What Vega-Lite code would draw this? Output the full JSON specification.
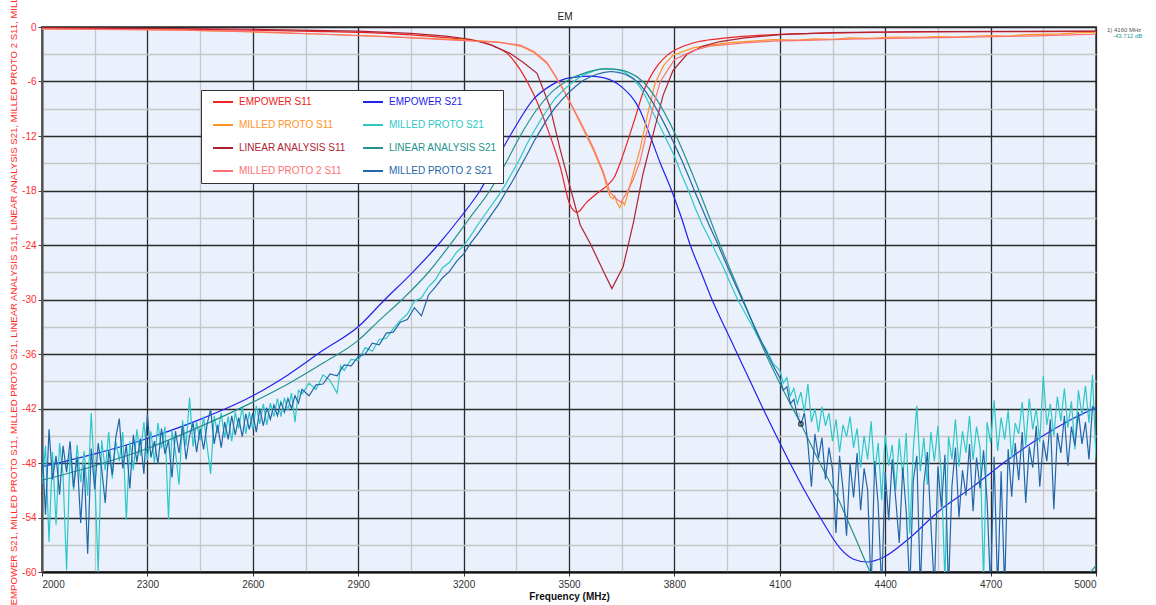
{
  "$schema": "https://vega.github.io/schema/vega-lite/v6.json",
  "width": 1054,
  "height": 545,
  "autosize": {"type": "none"},
  "padding": {"left": 42, "top": 27, "right": 60, "bottom": 33},
  "background": "white",
  "config": {
    "view": {"fill": "#EAF1FC", "stroke": "#666", "strokeWidth": 2},
    "font": "Liberation Sans"
  },
  "datasets": {
    "es11": [{"f":2000,"v":-0.15},{"f":2200,"v":-0.18},{"f":2400,"v":-0.25},{"f":2600,"v":-0.35},{"f":2800,"v":-0.5},{"f":2900,"v":-0.6},{"f":3000,"v":-0.75},{"f":3100,"v":-1.0},{"f":3200,"v":-1.35},{"f":3250,"v":-1.6},{"f":3290,"v":-2.2},{"f":3324,"v":-2.9},{"f":3361,"v":-4.7},{"f":3398,"v":-7.3},{"f":3437,"v":-11.0},{"f":3475,"v":-15.4},{"f":3503,"v":-19.6},{"f":3523,"v":-20.4},{"f":3550,"v":-19.3},{"f":3580,"v":-18.3},{"f":3610,"v":-17.4},{"f":3628,"v":-16.6},{"f":3650,"v":-14.5},{"f":3670,"v":-12.2},{"f":3690,"v":-9.8},{"f":3710,"v":-7.3},{"f":3730,"v":-5.6},{"f":3755,"v":-4.1},{"f":3780,"v":-3.1},{"f":3820,"v":-2.2},{"f":3870,"v":-1.6},{"f":3950,"v":-1.2},{"f":4050,"v":-0.9},{"f":4200,"v":-0.7},{"f":4400,"v":-0.58},{"f":4600,"v":-0.52},{"f":4800,"v":-0.5},{"f":5000,"v":-0.48}],
    "es21": [{"f":2000,"v":-48.4},{"f":2150,"v":-47.0},{"f":2300,"v":-45.3},{"f":2450,"v":-43.2},{"f":2600,"v":-40.6},{"f":2700,"v":-38.3},{"f":2800,"v":-35.6},{"f":2900,"v":-33.0},{"f":2976,"v":-30.0},{"f":3050,"v":-27.2},{"f":3127,"v":-24.0},{"f":3190,"v":-21.0},{"f":3247,"v":-18.0},{"f":3304,"v":-13.9},{"f":3341,"v":-11.4},{"f":3398,"v":-8.0},{"f":3450,"v":-6.4},{"f":3500,"v":-5.6},{"f":3560,"v":-5.4},{"f":3600,"v":-5.6},{"f":3650,"v":-6.6},{"f":3700,"v":-9.0},{"f":3731,"v":-12.0},{"f":3760,"v":-15.0},{"f":3792,"v":-18.0},{"f":3820,"v":-21.0},{"f":3845,"v":-24.0},{"f":3876,"v":-27.0},{"f":3907,"v":-30.0},{"f":3955,"v":-34.0},{"f":4000,"v":-37.7},{"f":4052,"v":-42.0},{"f":4090,"v":-45.0},{"f":4129,"v":-48.0},{"f":4170,"v":-51.0},{"f":4215,"v":-54.0},{"f":4272,"v":-57.4},{"f":4310,"v":-58.6},{"f":4348,"v":-58.9},{"f":4394,"v":-58.4},{"f":4462,"v":-56.5},{"f":4556,"v":-53.2},{"f":4650,"v":-50.6},{"f":4747,"v":-47.7},{"f":4841,"v":-45.2},{"f":4920,"v":-43.4},{"f":5000,"v":-41.9}],
    "mp11": [{"f":2000,"v":-0.2},{"f":2200,"v":-0.25},{"f":2400,"v":-0.35},{"f":2600,"v":-0.55},{"f":2800,"v":-0.8},{"f":2950,"v":-1.0},{"f":3100,"v":-1.25},{"f":3218,"v":-1.45},{"f":3300,"v":-1.65},{"f":3361,"v":-2.1},{"f":3400,"v":-2.8},{"f":3437,"v":-4.0},{"f":3460,"v":-5.3},{"f":3483,"v":-6.9},{"f":3508,"v":-8.7},{"f":3532,"v":-10.6},{"f":3550,"v":-12.0},{"f":3569,"v":-13.5},{"f":3585,"v":-15.0},{"f":3597,"v":-16.1},{"f":3610,"v":-17.9},{"f":3617,"v":-18.7},{"f":3625,"v":-18.9},{"f":3630,"v":-18.6},{"f":3637,"v":-19.4},{"f":3645,"v":-19.9},{"f":3652,"v":-19.2},{"f":3658,"v":-19.6},{"f":3665,"v":-18.7},{"f":3683,"v":-16.1},{"f":3702,"v":-13.5},{"f":3722,"v":-9.9},{"f":3745,"v":-6.2},{"f":3770,"v":-4.2},{"f":3796,"v":-3.1},{"f":3853,"v":-2.3},{"f":3900,"v":-2.0},{"f":3950,"v":-1.75},{"f":4000,"v":-1.6},{"f":4081,"v":-1.4},{"f":4150,"v":-1.45},{"f":4200,"v":-1.3},{"f":4250,"v":-1.35},{"f":4300,"v":-1.2},{"f":4350,"v":-1.25},{"f":4422,"v":-1.1},{"f":4500,"v":-1.15},{"f":4550,"v":-1.05},{"f":4600,"v":-1.1},{"f":4700,"v":-0.95},{"f":4750,"v":-1.0},{"f":4800,"v":-0.85},{"f":4900,"v":-0.75},{"f":4955,"v":-0.62},{"f":5000,"v":-0.6}],
    "mp21": [{"f":2000,"v":-50.3},{"f":2010,"v":-46.1},{"f":2020,"v":-56.7},{"f":2030,"v":-46.8},{"f":2040,"v":-54.8},{"f":2050,"v":-45.8},{"f":2060,"v":-49.4},{"f":2070,"v":-59.8},{"f":2080,"v":-46.8},{"f":2090,"v":-51.0},{"f":2100,"v":-46.0},{"f":2110,"v":-50.1},{"f":2120,"v":-46.7},{"f":2130,"v":-51.6},{"f":2140,"v":-42.5},{"f":2150,"v":-49.5},{"f":2160,"v":-60.0},{"f":2170,"v":-45.5},{"f":2180,"v":-48.8},{"f":2190,"v":-44.6},{"f":2200,"v":-49.7},{"f":2210,"v":-45.6},{"f":2220,"v":-47.8},{"f":2230,"v":-44.6},{"f":2240,"v":-54.3},{"f":2250,"v":-45.6},{"f":2260,"v":-48.8},{"f":2270,"v":-44.3},{"f":2280,"v":-47.2},{"f":2290,"v":-43.5},{"f":2300,"v":-47.7},{"f":2310,"v":-44.5},{"f":2320,"v":-48.0},{"f":2330,"v":-43.6},{"f":2340,"v":-46.4},{"f":2350,"v":-44.0},{"f":2360,"v":-54.2},{"f":2370,"v":-44.4},{"f":2380,"v":-46.8},{"f":2390,"v":-50.4},{"f":2400,"v":-43.3},{"f":2410,"v":-46.1},{"f":2420,"v":-40.8},{"f":2430,"v":-46.2},{"f":2440,"v":-43.5},{"f":2450,"v":-45.5},{"f":2460,"v":-42.9},{"f":2470,"v":-46.2},{"f":2480,"v":-49.2},{"f":2490,"v":-42.8},{"f":2500,"v":-44.7},{"f":2510,"v":-42.5},{"f":2520,"v":-45.2},{"f":2530,"v":-42.9},{"f":2540,"v":-45.6},{"f":2550,"v":-42.4},{"f":2560,"v":-44.2},{"f":2570,"v":-41.8},{"f":2580,"v":-44.8},{"f":2590,"v":-42.4},{"f":2600,"v":-44.3},{"f":2610,"v":-41.7},{"f":2620,"v":-43.7},{"f":2630,"v":-41.5},{"f":2640,"v":-43.8},{"f":2650,"v":-41.4},{"f":2660,"v":-42.9},{"f":2670,"v":-40.9},{"f":2680,"v":-42.9},{"f":2690,"v":-40.8},{"f":2700,"v":-42.2},{"f":2710,"v":-40.3},{"f":2720,"v":-43.5},{"f":2730,"v":-40.0},{"f":2740,"v":-40.4},{"f":2760,"v":-39.2},{"f":2780,"v":-39.9},{"f":2800,"v":-38.3},{"f":2820,"v":-38.9},{"f":2840,"v":-40.3},{"f":2850,"v":-37.3},{"f":2860,"v":-37.8},{"f":2880,"v":-36.6},{"f":2900,"v":-36.7},{"f":2920,"v":-35.3},{"f":2940,"v":-35.7},{"f":2960,"v":-34.4},{"f":2980,"v":-34.3},{"f":3000,"v":-33.2},{"f":3020,"v":-32.3},{"f":3040,"v":-31.6},{"f":3060,"v":-30.2},{"f":3080,"v":-29.8},{"f":3100,"v":-28.6},{"f":3120,"v":-27.8},{"f":3140,"v":-26.5},{"f":3160,"v":-25.9},{"f":3180,"v":-24.8},{"f":3200,"v":-24.1},{"f":3220,"v":-23.0},{"f":3240,"v":-21.8},{"f":3260,"v":-20.7},{"f":3280,"v":-19.6},{"f":3300,"v":-18.5},{"f":3320,"v":-17.3},{"f":3340,"v":-15.9},{"f":3360,"v":-14.5},{"f":3380,"v":-12.9},{"f":3400,"v":-11.5},{"f":3420,"v":-10.2},{"f":3440,"v":-9.0},{"f":3460,"v":-7.9},{"f":3480,"v":-7.1},{"f":3500,"v":-6.4},{"f":3520,"v":-5.8},{"f":3540,"v":-5.3},{"f":3560,"v":-5.0},{"f":3580,"v":-4.7},{"f":3600,"v":-4.6},{"f":3620,"v":-4.6},{"f":3640,"v":-4.7},{"f":3660,"v":-5.0},{"f":3680,"v":-5.6},{"f":3700,"v":-6.5},{"f":3720,"v":-7.8},{"f":3740,"v":-9.5},{"f":3760,"v":-11.0},{"f":3780,"v":-12.6},{"f":3800,"v":-14.2},{"f":3820,"v":-16.2},{"f":3840,"v":-18.0},{"f":3860,"v":-20.0},{"f":3880,"v":-21.8},{"f":3900,"v":-23.3},{"f":3920,"v":-25.0},{"f":3940,"v":-26.5},{"f":3960,"v":-28.3},{"f":3980,"v":-30.0},{"f":4000,"v":-31.4},{"f":4020,"v":-32.8},{"f":4040,"v":-34.3},{"f":4060,"v":-35.4},{"f":4080,"v":-37.0},{"f":4100,"v":-37.8},{"f":4110,"v":-39.2},{"f":4120,"v":-38.6},{"f":4130,"v":-40.6},{"f":4140,"v":-39.8},{"f":4150,"v":-41.5},{"f":4160,"v":-40.2},{"f":4170,"v":-42.4},{"f":4180,"v":-39.3},{"f":4190,"v":-43.5},{"f":4200,"v":-42.0},{"f":4210,"v":-44.6},{"f":4220,"v":-41.8},{"f":4230,"v":-43.9},{"f":4240,"v":-42.5},{"f":4250,"v":-45.6},{"f":4260,"v":-43.2},{"f":4270,"v":-46.8},{"f":4280,"v":-43.8},{"f":4290,"v":-45.1},{"f":4300,"v":-42.9},{"f":4310,"v":-46.3},{"f":4320,"v":-44.2},{"f":4330,"v":-48.5},{"f":4340,"v":-45.0},{"f":4350,"v":-47.6},{"f":4360,"v":-43.4},{"f":4370,"v":-49.2},{"f":4380,"v":-45.8},{"f":4390,"v":-52.1},{"f":4400,"v":-44.9},{"f":4410,"v":-48.3},{"f":4420,"v":-46.0},{"f":4430,"v":-51.0},{"f":4440,"v":-45.3},{"f":4450,"v":-49.6},{"f":4460,"v":-44.7},{"f":4470,"v":-55.8},{"f":4480,"v":-46.5},{"f":4490,"v":-41.7},{"f":4500,"v":-48.9},{"f":4510,"v":-45.2},{"f":4520,"v":-50.4},{"f":4530,"v":-44.6},{"f":4540,"v":-47.8},{"f":4550,"v":-43.9},{"f":4560,"v":-49.5},{"f":4570,"v":-61.0},{"f":4580,"v":-45.1},{"f":4590,"v":-47.6},{"f":4600,"v":-43.2},{"f":4610,"v":-48.4},{"f":4620,"v":-44.5},{"f":4630,"v":-46.9},{"f":4640,"v":-42.8},{"f":4650,"v":-47.7},{"f":4660,"v":-44.0},{"f":4670,"v":-46.3},{"f":4680,"v":-61.0},{"f":4690,"v":-43.5},{"f":4700,"v":-45.8},{"f":4710,"v":-41.1},{"f":4720,"v":-46.7},{"f":4730,"v":-43.0},{"f":4740,"v":-45.4},{"f":4750,"v":-42.2},{"f":4760,"v":-47.5},{"f":4770,"v":-43.6},{"f":4780,"v":-44.8},{"f":4790,"v":-41.3},{"f":4800,"v":-46.1},{"f":4810,"v":-40.9},{"f":4820,"v":-44.3},{"f":4830,"v":-42.0},{"f":4840,"v":-45.7},{"f":4850,"v":-38.4},{"f":4860,"v":-43.8},{"f":4870,"v":-41.5},{"f":4880,"v":-45.0},{"f":4890,"v":-40.7},{"f":4900,"v":-43.4},{"f":4910,"v":-39.8},{"f":4920,"v":-44.1},{"f":4930,"v":-41.2},{"f":4940,"v":-46.5},{"f":4950,"v":-40.0},{"f":4960,"v":-42.8},{"f":4970,"v":-39.5},{"f":4980,"v":-43.6},{"f":4990,"v":-38.3},{"f":5000,"v":-47.5}],
    "la11": [{"f":2000,"v":-0.1},{"f":2300,"v":-0.15},{"f":2600,"v":-0.25},{"f":2900,"v":-0.45},{"f":3050,"v":-0.7},{"f":3150,"v":-1.0},{"f":3218,"v":-1.35},{"f":3280,"v":-2.0},{"f":3332,"v":-2.9},{"f":3370,"v":-3.9},{"f":3409,"v":-5.1},{"f":3446,"v":-8.8},{"f":3475,"v":-13.5},{"f":3503,"v":-17.6},{"f":3532,"v":-21.8},{"f":3560,"v":-23.8},{"f":3597,"v":-26.8},{"f":3622,"v":-28.8},{"f":3654,"v":-26.4},{"f":3683,"v":-21.6},{"f":3711,"v":-16.1},{"f":3740,"v":-11.7},{"f":3768,"v":-7.5},{"f":3796,"v":-4.8},{"f":3836,"v":-3.0},{"f":3882,"v":-2.1},{"f":3930,"v":-1.6},{"f":4000,"v":-1.2},{"f":4100,"v":-0.85},{"f":4250,"v":-0.62},{"f":4500,"v":-0.52},{"f":5000,"v":-0.45}],
    "la21": [{"f":2000,"v":-49.9},{"f":2150,"v":-48.3},{"f":2300,"v":-46.4},{"f":2450,"v":-44.0},{"f":2600,"v":-41.3},{"f":2700,"v":-39.3},{"f":2800,"v":-37.0},{"f":2900,"v":-34.5},{"f":2960,"v":-32.3},{"f":3025,"v":-30.0},{"f":3100,"v":-27.0},{"f":3161,"v":-24.0},{"f":3218,"v":-21.0},{"f":3275,"v":-18.0},{"f":3320,"v":-15.0},{"f":3361,"v":-12.0},{"f":3410,"v":-9.0},{"f":3450,"v":-7.2},{"f":3500,"v":-5.8},{"f":3550,"v":-5.0},{"f":3600,"v":-4.6},{"f":3640,"v":-4.7},{"f":3670,"v":-5.0},{"f":3710,"v":-6.0},{"f":3750,"v":-8.0},{"f":3805,"v":-12.0},{"f":3870,"v":-18.0},{"f":3930,"v":-24.0},{"f":3995,"v":-30.0},{"f":4060,"v":-36.0},{"f":4110,"v":-40.0},{"f":4160,"v":-43.7},{"f":4210,"v":-47.7},{"f":4263,"v":-51.7},{"f":4310,"v":-55.8},{"f":4357,"v":-60.0},{"f":4400,"v":-63.5},{"f":4500,"v":-70.0},{"f":4650,"v":-72.0},{"f":4800,"v":-68.0},{"f":4920,"v":-63.0},{"f":5000,"v":-59.3}],
    "m211": [{"f":2000,"v":-0.2},{"f":2400,"v":-0.35},{"f":2600,"v":-0.5},{"f":2800,"v":-0.8},{"f":3000,"v":-1.1},{"f":3200,"v":-1.5},{"f":3300,"v":-1.7},{"f":3361,"v":-2.0},{"f":3400,"v":-2.7},{"f":3437,"v":-3.9},{"f":3483,"v":-6.8},{"f":3532,"v":-10.4},{"f":3569,"v":-13.3},{"f":3597,"v":-15.9},{"f":3617,"v":-18.2},{"f":3637,"v":-19.0},{"f":3648,"v":-19.3},{"f":3665,"v":-18.2},{"f":3683,"v":-16.8},{"f":3702,"v":-14.8},{"f":3722,"v":-11.5},{"f":3745,"v":-8.0},{"f":3760,"v":-6.0},{"f":3800,"v":-3.6},{"f":3853,"v":-2.6},{"f":3900,"v":-2.1},{"f":4000,"v":-1.75},{"f":4081,"v":-1.55},{"f":4200,"v":-1.45},{"f":4300,"v":-1.35},{"f":4422,"v":-1.25},{"f":4600,"v":-1.15},{"f":4800,"v":-1.0},{"f":4955,"v":-0.85},{"f":5000,"v":-0.8}],
    "m221": [{"f":2000,"v":-45.9},{"f":2010,"v":-53.7},{"f":2020,"v":-44.3},{"f":2030,"v":-49.8},{"f":2040,"v":-47.2},{"f":2050,"v":-51.5},{"f":2060,"v":-46.1},{"f":2070,"v":-49.0},{"f":2080,"v":-45.6},{"f":2090,"v":-50.7},{"f":2100,"v":-47.3},{"f":2110,"v":-54.6},{"f":2120,"v":-48.2},{"f":2130,"v":-58.0},{"f":2140,"v":-46.4},{"f":2150,"v":-50.9},{"f":2160,"v":-45.8},{"f":2170,"v":-48.7},{"f":2180,"v":-52.4},{"f":2190,"v":-46.6},{"f":2200,"v":-49.3},{"f":2210,"v":-45.2},{"f":2220,"v":-43.1},{"f":2230,"v":-48.6},{"f":2240,"v":-46.0},{"f":2250,"v":-50.8},{"f":2260,"v":-44.9},{"f":2270,"v":-47.9},{"f":2280,"v":-45.3},{"f":2290,"v":-49.2},{"f":2300,"v":-42.6},{"f":2310,"v":-47.4},{"f":2320,"v":-45.6},{"f":2330,"v":-48.1},{"f":2340,"v":-44.2},{"f":2350,"v":-47.0},{"f":2360,"v":-45.5},{"f":2370,"v":-49.6},{"f":2380,"v":-44.5},{"f":2390,"v":-46.9},{"f":2400,"v":-43.9},{"f":2410,"v":-47.6},{"f":2420,"v":-45.0},{"f":2430,"v":-43.6},{"f":2440,"v":-46.8},{"f":2450,"v":-44.2},{"f":2460,"v":-46.5},{"f":2470,"v":-43.7},{"f":2480,"v":-42.1},{"f":2490,"v":-45.9},{"f":2500,"v":-43.8},{"f":2510,"v":-46.3},{"f":2520,"v":-43.5},{"f":2530,"v":-45.4},{"f":2540,"v":-42.8},{"f":2550,"v":-44.9},{"f":2560,"v":-43.0},{"f":2570,"v":-45.1},{"f":2580,"v":-42.6},{"f":2590,"v":-44.3},{"f":2600,"v":-42.5},{"f":2610,"v":-44.6},{"f":2620,"v":-42.0},{"f":2630,"v":-43.9},{"f":2640,"v":-41.9},{"f":2650,"v":-43.2},{"f":2660,"v":-41.6},{"f":2670,"v":-42.8},{"f":2680,"v":-41.3},{"f":2690,"v":-42.4},{"f":2700,"v":-40.9},{"f":2710,"v":-42.0},{"f":2720,"v":-40.6},{"f":2730,"v":-41.4},{"f":2740,"v":-39.9},{"f":2760,"v":-40.6},{"f":2780,"v":-39.4},{"f":2800,"v":-39.3},{"f":2820,"v":-38.2},{"f":2840,"v":-38.4},{"f":2860,"v":-37.2},{"f":2880,"v":-37.3},{"f":2900,"v":-36.3},{"f":2920,"v":-36.0},{"f":2940,"v":-34.8},{"f":2960,"v":-35.0},{"f":2980,"v":-33.7},{"f":3000,"v":-33.6},{"f":3020,"v":-32.5},{"f":3040,"v":-32.2},{"f":3060,"v":-30.9},{"f":3080,"v":-31.8},{"f":3100,"v":-29.5},{"f":3120,"v":-28.6},{"f":3140,"v":-27.6},{"f":3160,"v":-26.9},{"f":3180,"v":-25.8},{"f":3200,"v":-25.0},{"f":3220,"v":-23.8},{"f":3240,"v":-22.8},{"f":3260,"v":-21.7},{"f":3280,"v":-20.6},{"f":3300,"v":-19.5},{"f":3320,"v":-18.2},{"f":3340,"v":-16.9},{"f":3360,"v":-15.5},{"f":3380,"v":-14.1},{"f":3400,"v":-12.6},{"f":3420,"v":-11.3},{"f":3440,"v":-10.0},{"f":3460,"v":-8.9},{"f":3480,"v":-8.0},{"f":3500,"v":-7.2},{"f":3520,"v":-6.5},{"f":3540,"v":-5.9},{"f":3560,"v":-5.5},{"f":3580,"v":-5.2},{"f":3600,"v":-5.0},{"f":3620,"v":-4.9},{"f":3640,"v":-5.0},{"f":3660,"v":-5.2},{"f":3680,"v":-5.6},{"f":3700,"v":-6.2},{"f":3720,"v":-7.2},{"f":3740,"v":-8.4},{"f":3760,"v":-9.8},{"f":3780,"v":-11.3},{"f":3800,"v":-12.9},{"f":3820,"v":-14.6},{"f":3840,"v":-16.4},{"f":3860,"v":-18.3},{"f":3880,"v":-20.1},{"f":3900,"v":-21.9},{"f":3920,"v":-23.6},{"f":3940,"v":-25.4},{"f":3960,"v":-27.2},{"f":3980,"v":-28.9},{"f":4000,"v":-30.6},{"f":4020,"v":-32.3},{"f":4040,"v":-34.0},{"f":4060,"v":-35.6},{"f":4080,"v":-37.2},{"f":4100,"v":-38.6},{"f":4110,"v":-40.0},{"f":4120,"v":-39.6},{"f":4130,"v":-41.5},{"f":4140,"v":-41.0},{"f":4150,"v":-42.8},{"f":4160,"v":-43.7},{"f":4170,"v":-42.5},{"f":4180,"v":-45.9},{"f":4190,"v":-50.6},{"f":4200,"v":-44.8},{"f":4210,"v":-47.5},{"f":4220,"v":-45.2},{"f":4230,"v":-49.8},{"f":4240,"v":-46.3},{"f":4250,"v":-48.7},{"f":4260,"v":-55.7},{"f":4270,"v":-47.2},{"f":4280,"v":-50.9},{"f":4290,"v":-56.0},{"f":4300,"v":-48.0},{"f":4310,"v":-51.8},{"f":4320,"v":-46.9},{"f":4330,"v":-53.2},{"f":4340,"v":-48.6},{"f":4350,"v":-51.0},{"f":4360,"v":-62.0},{"f":4370,"v":-47.8},{"f":4380,"v":-52.6},{"f":4390,"v":-62.0},{"f":4400,"v":-49.0},{"f":4410,"v":-54.3},{"f":4420,"v":-47.6},{"f":4430,"v":-52.0},{"f":4440,"v":-56.8},{"f":4450,"v":-48.5},{"f":4460,"v":-53.4},{"f":4470,"v":-62.0},{"f":4480,"v":-49.9},{"f":4490,"v":-47.2},{"f":4500,"v":-62.0},{"f":4510,"v":-50.3},{"f":4520,"v":-46.8},{"f":4530,"v":-54.7},{"f":4540,"v":-62.0},{"f":4550,"v":-48.4},{"f":4560,"v":-52.9},{"f":4570,"v":-47.1},{"f":4580,"v":-62.0},{"f":4590,"v":-50.5},{"f":4600,"v":-46.3},{"f":4610,"v":-54.0},{"f":4620,"v":-48.8},{"f":4630,"v":-51.6},{"f":4640,"v":-45.9},{"f":4650,"v":-53.3},{"f":4660,"v":-47.4},{"f":4670,"v":-50.8},{"f":4680,"v":-46.6},{"f":4690,"v":-52.2},{"f":4700,"v":-62.0},{"f":4710,"v":-47.3},{"f":4720,"v":-62.0},{"f":4730,"v":-48.9},{"f":4740,"v":-62.0},{"f":4750,"v":-46.5},{"f":4760,"v":-51.7},{"f":4770,"v":-45.8},{"f":4780,"v":-49.9},{"f":4790,"v":-44.6},{"f":4800,"v":-52.4},{"f":4810,"v":-46.2},{"f":4820,"v":-48.5},{"f":4830,"v":-43.9},{"f":4840,"v":-50.6},{"f":4850,"v":-45.5},{"f":4860,"v":-47.8},{"f":4870,"v":-43.2},{"f":4880,"v":-53.1},{"f":4890,"v":-44.7},{"f":4900,"v":-46.9},{"f":4910,"v":-42.8},{"f":4920,"v":-48.3},{"f":4930,"v":-44.0},{"f":4940,"v":-46.1},{"f":4950,"v":-42.4},{"f":4960,"v":-45.9},{"f":4970,"v":-43.5},{"f":4980,"v":-47.6},{"f":4990,"v":-41.8},{"f":5000,"v":-42.3}]
  },
  "encoding": {
    "x": {
      "field": "f", "type": "quantitative",
      "scale": {"domain": [2000, 5000], "nice": false, "zero": false},
      "axis": {
        "values": [2000,2150,2300,2450,2600,2750,2900,3050,3200,3350,3500,3650,3800,3950,4100,4250,4400,4550,4700,4850,5000],
        "labelExpr": "(datum.value - 2000) % 300 === 0 ? '' + datum.value : ''",
        "labelFont": "Liberation Sans", "labelFontSize": 10, "labelColor": "#333", "labelPadding": 3,
        "tickSize": 4, "tickColor": {"condition": {"test": "(datum.value - 2000) % 300 === 0", "value": "#333"}, "value": "transparent"},
        "grid": true,
        "gridColor": {"condition": {"test": "(datum.value - 2000) % 300 === 0", "value": "#2b2b2b"}, "value": "#c6c6c6"},
        "gridWidth": 1.3,
        "domainColor": "#111", "domainWidth": 2,
        "title": "Frequency (MHz)", "titleFont": "Liberation Sans", "titleFontSize": 10, "titleFontWeight": "bold", "titleColor": "#111", "titlePadding": 2
      }
    },
    "y": {
      "field": "v", "type": "quantitative",
      "scale": {"domain": [-60, 0], "nice": false, "zero": false},
      "axis": {
        "values": [-60,-57,-54,-51,-48,-45,-42,-39,-36,-33,-30,-27,-24,-21,-18,-15,-12,-9,-6,-3,0],
        "labelExpr": "datum.value % 6 === 0 ? '' + datum.value : ''",
        "labelFont": "Liberation Sans", "labelFontSize": 10, "labelColor": "#FF2A2A", "labelPadding": 2,
        "tickSize": 4, "tickColor": {"condition": {"test": "datum.value % 6 === 0", "value": "#444"}, "value": "transparent"},
        "grid": true,
        "gridColor": {"condition": {"test": "datum.value % 6 === 0", "value": "#2b2b2b"}, "value": "#c6c6c6"},
        "gridWidth": 1.3,
        "domainColor": "#555", "domainWidth": 2,
        "title": "EMPOWER S11, EMPOWER S21, MILLED PROTO S11, MILLED PROTO S21, LINEAR ANALYSIS S11, LINEAR ANALYSIS S21, MILLED PROTO 2 S11, MILLED PROTO 2 S21",
        "titleFont": "Liberation Sans", "titleFontSize": 9.6, "titleFontWeight": "normal", "titleColor": "#FF2A2A", "titlePadding": 3
      }
    }
  },
  "layer": [
    {
      "data": {"name": "es11"},
      "mark": {"type": "line", "strokeWidth": 1.2, "clip": true, "interpolate": "monotone"},
      "encoding": {
        "color": {
          "datum": "EMPOWER S11", "type": "nominal",
          "scale": {
            "domain": ["EMPOWER S11", "MILLED PROTO S11", "LINEAR ANALYSIS S11", "MILLED PROTO 2 S11", "EMPOWER S21", "MILLED PROTO S21", "LINEAR ANALYSIS S21", "MILLED PROTO 2 S21"],
            "range": ["#EE2222", "#FF9326", "#B02230", "#FF7070", "#2222EE", "#2CC8C8", "#23928B", "#2366A8"]
          },
          "legend": {
            "orient": "none", "legendX": 159, "legendY": 63, "columns": 2, "title": null,
            "padding": 6, "fillColor": "white", "strokeColor": "#333",
            "symbolType": "stroke", "symbolSize": 400, "symbolStrokeWidth": 2, "symbolOffset": 5,
            "labelOffset": 5, "clipHeight": 12, "rowPadding": 11, "columnPadding": 11,
            "labelFont": "Liberation Sans", "labelFontSize": 10,
            "encode": {"labels": {"update": {"fill": {"scale": "color", "field": "value"}}}}
          }
        }
      }
    },
    {"data": {"name": "es21"}, "mark": {"type": "line", "strokeWidth": 1.2, "clip": true, "interpolate": "monotone"}, "encoding": {"color": {"datum": "EMPOWER S21"}}},
    {"data": {"name": "mp11"}, "mark": {"type": "line", "strokeWidth": 1.2, "clip": true}, "encoding": {"color": {"datum": "MILLED PROTO S11"}}},
    {"data": {"name": "mp21"}, "mark": {"type": "line", "strokeWidth": 1.2, "clip": true}, "encoding": {"color": {"datum": "MILLED PROTO S21"}}},
    {"data": {"name": "la11"}, "mark": {"type": "line", "strokeWidth": 1.2, "clip": true}, "encoding": {"color": {"datum": "LINEAR ANALYSIS S11"}}},
    {"data": {"name": "la21"}, "mark": {"type": "line", "strokeWidth": 1.2, "clip": true, "interpolate": "monotone"}, "encoding": {"color": {"datum": "LINEAR ANALYSIS S21"}}},
    {"data": {"name": "m211"}, "mark": {"type": "line", "strokeWidth": 1.2, "clip": true}, "encoding": {"color": {"datum": "MILLED PROTO 2 S11"}}},
    {"data": {"name": "m221"}, "mark": {"type": "line", "strokeWidth": 1.2, "clip": true}, "encoding": {"color": {"datum": "MILLED PROTO 2 S21"}}},
    {
      "data": {"values": [{"f": 4160, "v": -43.712, "n": "1"}]},
      "layer": [
        {"mark": {"type": "point", "shape": "circle", "size": 20, "filled": false, "stroke": "#111", "strokeWidth": 1.6}},
        {"mark": {"type": "text", "fontSize": 6, "color": "#8aa", "dy": -9, "dx": -2}, "encoding": {"text": {"field": "n"}}}
      ]
    },
    {
      "data": {"values": [{"f": 5000, "v": 0, "t": "1)  4160 MHz", "u": "-43.712 dB"}]},
      "layer": [
        {"mark": {"type": "text", "align": "left", "baseline": "middle", "fontSize": 6, "color": "#555", "dx": 11, "dy": 3}, "encoding": {"text": {"field": "t"}}},
        {"mark": {"type": "text", "align": "left", "baseline": "middle", "fontSize": 6, "color": "#2A9A98", "dx": 17, "dy": 9}, "encoding": {"text": {"field": "u"}}}
      ]
    },
    {
      "data": {"values": [{"f": 3500, "v": 0, "h": "EM"}]},
      "mark": {"type": "text", "align": "center", "baseline": "middle", "fontSize": 10, "color": "#222", "dx": -4, "dy": -10},
      "encoding": {"text": {"field": "h"}}
    }
  ]
}
